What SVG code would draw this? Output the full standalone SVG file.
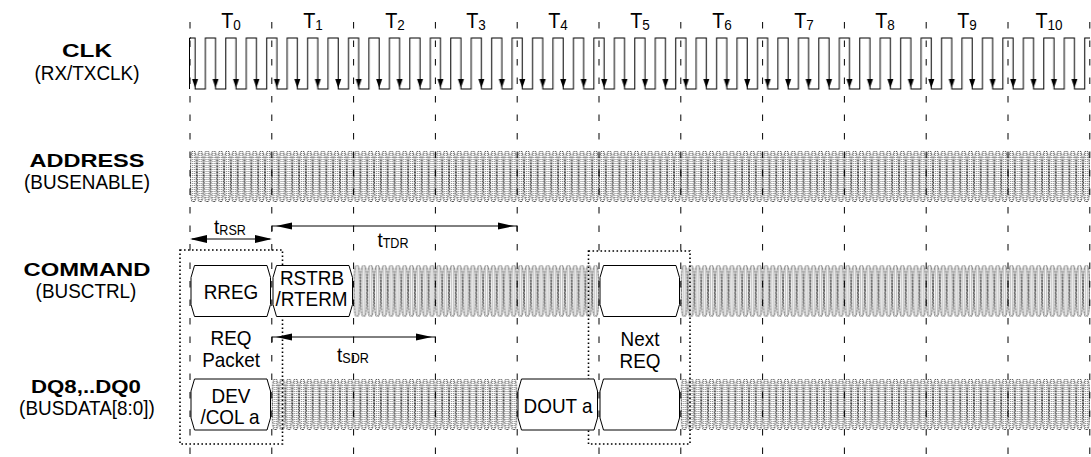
<svg xmlns="http://www.w3.org/2000/svg" width="1091" height="457" viewBox="0 0 1091 457">
<style>
text{font-family:"Liberation Sans",Arial,sans-serif;fill:#000}
.lbl{font-size:19px;font-weight:bold;text-anchor:middle}
.sig{font-size:21px;text-anchor:middle;transform-box:fill-box;transform-origin:center;transform:scaleX(0.9)}
.tl{font-size:22px;text-anchor:middle;transform-box:fill-box;transform-origin:center;transform:scaleX(0.9)}
.sub{font-size:15px}
.ssub{font-size:14px}
.grid{stroke:#000;stroke-width:1;stroke-dasharray:6.5 12;fill:none}
.dot{fill:none;stroke:#000;stroke-width:1.6;stroke-dasharray:1.6 2.4}
.box{fill:#fff;stroke:#000;stroke-width:1}
.arr{fill:none;stroke:#000;stroke-width:1}
.head{fill:#000}
</style>
<defs>
<pattern id="dots" patternUnits="userSpaceOnUse" width="2" height="2">
<rect x="0" y="0" width="1" height="1" fill="#8a8a8a"/>
</pattern>
<pattern id="hatch" patternUnits="userSpaceOnUse" x="190" y="0" width="6.8167" height="51">
<path d="M0.5,25.5 C0.5,9 1,0.5 2.1,0.5 H4.7 C5.8,0.5 6.3,9 6.3,25.5 C6.3,42 5.8,50.5 4.7,50.5 H2.1 C1,50.5 0.5,42 0.5,25.5Z" fill="url(#dots)" stroke="#333" stroke-width="0.9" stroke-dasharray="2 1"/>
</pattern>
<pattern id="clk" patternUnits="userSpaceOnUse" x="190" y="0" width="20.45" height="100">
<path d="M0,38 H5.1 V89 H15.35 V38 H20.45" fill="none" stroke="#000" stroke-width="1"/>
<polygon points="2.1,79 8.1,79 5.1,88" fill="#000"/>
</pattern>
</defs>
<rect width="1091" height="457" fill="#fff"/>

<g id="clock">
<rect x="190" y="30" width="900" height="65" fill="url(#clk)"/>
<path d="M189.5,89 V38 H191" fill="none" stroke="#000"/>
</g>

<g id="address-bus">
<g transform="translate(0,151)"><rect x="190" y="0" width="900" height="51" fill="url(#hatch)"/></g>
</g>
<g id="command-bus">
<g transform="translate(0,265.5)">
<rect x="353.6" y="0" width="245.4" height="51" fill="url(#hatch)"/>
<rect x="680.8" y="0" width="409.2" height="51" fill="url(#hatch)"/>
</g>
</g>
<g id="data-bus">
<g transform="translate(0,379)">
<rect x="271.8" y="0" width="245.4" height="51" fill="url(#hatch)"/>
<rect x="680.8" y="0" width="409.2" height="51" fill="url(#hatch)"/>
</g>
</g>

<g id="grid">
<path class="grid" d="M190,22V457 M271.8,22V457 M353.6,22V457 M435.4,22V457 M517.2,22V457 M599,22V457 M680.8,22V457 M762.6,22V457 M844.4,22V457 M926.2,22V457 M1008,22V457 M1089.8,22V457"/>
</g>

<g id="cycles">
<text class="tl" x="231" y="28">T<tspan class="sub" dy="2">0</tspan></text>
<text class="tl" x="313" y="28">T<tspan class="sub" dy="2">1</tspan></text>
<text class="tl" x="395" y="28">T<tspan class="sub" dy="2">2</tspan></text>
<text class="tl" x="476" y="28">T<tspan class="sub" dy="2">3</tspan></text>
<text class="tl" x="558" y="28">T<tspan class="sub" dy="2">4</tspan></text>
<text class="tl" x="640" y="28">T<tspan class="sub" dy="2">5</tspan></text>
<text class="tl" x="722" y="28">T<tspan class="sub" dy="2">6</tspan></text>
<text class="tl" x="804" y="28">T<tspan class="sub" dy="2">7</tspan></text>
<text class="tl" x="885" y="28">T<tspan class="sub" dy="2">8</tspan></text>
<text class="tl" x="967" y="28">T<tspan class="sub" dy="2">9</tspan></text>
<text class="tl" x="1049" y="28">T<tspan class="sub" dy="2">10</tspan></text>
</g>

<g id="labels">
<text class="lbl" x="87" y="57" textLength="50" lengthAdjust="spacingAndGlyphs">CLK</text>
<text class="sig" x="87" y="80">(RX/TXCLK)</text>
<text class="lbl" x="87" y="167" textLength="115" lengthAdjust="spacingAndGlyphs">ADDRESS</text>
<text class="sig" x="87" y="189">(BUSENABLE)</text>
<text class="lbl" x="87" y="276" textLength="127" lengthAdjust="spacingAndGlyphs">COMMAND</text>
<text class="sig" x="86" y="298">(BUSCTRL)</text>
<text class="lbl" x="86" y="393" textLength="110" lengthAdjust="spacingAndGlyphs">DQ8,..DQ0</text>
<text class="sig" x="87" y="415">(BUSDATA[8:0])</text>
</g>

<g id="req-packet-frame">
<rect class="dot" x="180" y="250" width="102.5" height="194"/>
</g>
<g id="next-req-frame">
<rect class="dot" x="588.5" y="251" width="101.5" height="193"/>
</g>

<g id="rreg">
<polygon class="box" points="191,277.5 194.5,265.5 267,265.5 270.5,277.5 270.5,304.5 267,316.5 194.5,316.5 191,304.5"/>
<text class="sig" x="231" y="299">RREG</text>
</g>
<g id="rstrb">
<polygon class="box" points="273,277.5 276.5,265.5 349,265.5 352.5,277.5 352.5,304.5 349,316.5 276.5,316.5 273,304.5"/>
<text class="sig" x="312" y="285">RSTRB</text>
<text class="sig" x="311.5" y="306">/RTERM</text>
</g>
<g id="next-req-cmd">
<polygon class="box" points="600,277.5 603.5,265.5 676,265.5 679.5,277.5 679.5,304.5 676,316.5 603.5,316.5 600,304.5"/>
</g>
<g id="dev-col">
<polygon class="box" points="191,391 194.5,379 267,379 270.5,391 270.5,418 267,430 194.5,430 191,418"/>
<text class="sig" x="231" y="403">DEV</text>
<text class="sig" x="230" y="424">/COL a</text>
</g>
<g id="dout">
<polygon class="box" points="518,391 521.5,379 594,379 597.5,391 597.5,418 594,430 521.5,430 518,418"/>
<text class="sig" x="558" y="413">DOUT a</text>
</g>
<g id="next-req-data">
<polygon class="box" points="600,391 603.5,379 676,379 679.5,391 679.5,418 676,430 603.5,430 600,418"/>
</g>

<g id="notes">
<text class="sig" x="231" y="345">REQ</text>
<text class="sig" x="231" y="367">Packet</text>
<text class="sig" x="640" y="346">Next</text>
<text class="sig" x="640" y="368">REQ</text>
</g>

<g id="connectors">
<path class="arr" d="M192,239 H270"/>
<polygon class="head" points="190,239 207,235 207,243"/>
<polygon class="head" points="272,239 255,235 255,243"/>
<text class="sig" x="230" y="234">t<tspan class="ssub" dy="1">RSR</tspan></text>

<path class="arr" d="M272,231 V226 H517 V231"/>
<polygon class="head" points="276,226 292,222.5 292,229.5"/>
<polygon class="head" points="514,226 498,222.5 498,229.5"/>
<text class="sig" x="393" y="247">t<tspan class="ssub" dy="1">TDR</tspan></text>

<path class="arr" d="M272,342 V337 H435.4 V342"/>
<polygon class="head" points="276,337 292,333.5 292,340.5"/>
<polygon class="head" points="432,337 416,333.5 416,340.5"/>
<text class="sig" x="353" y="362">t<tspan class="ssub" dy="1">SDR</tspan></text>
</g>
</svg>
